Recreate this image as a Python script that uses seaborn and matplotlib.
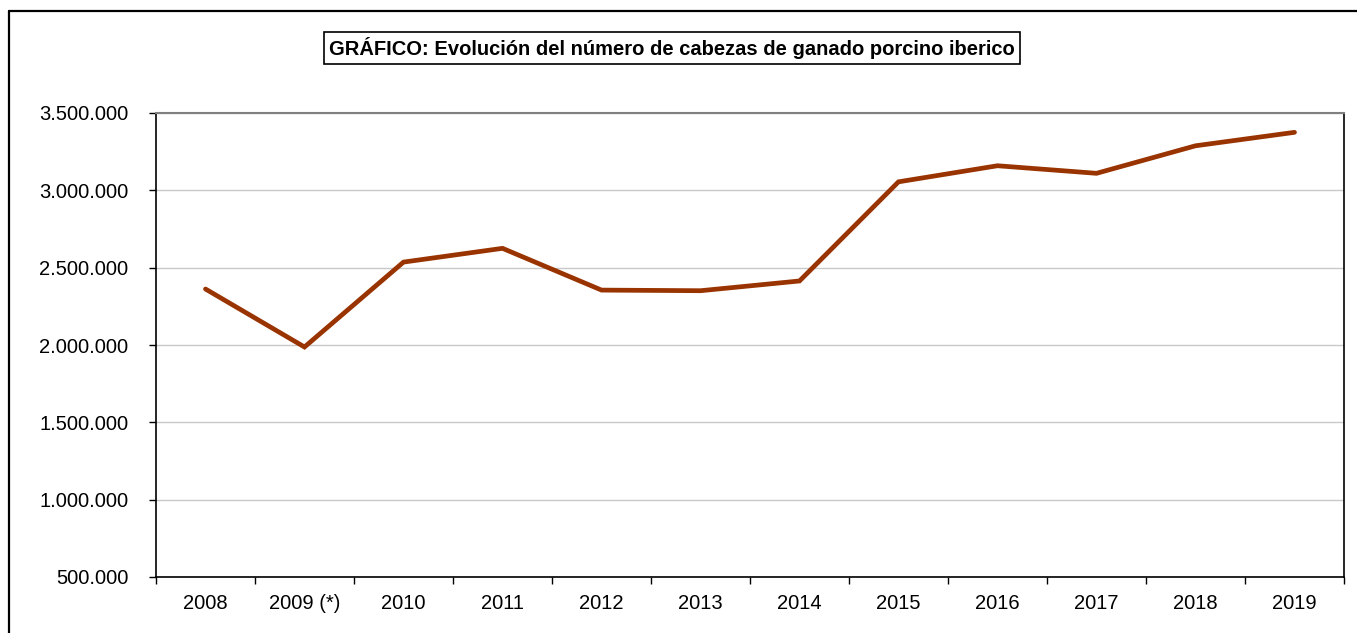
import numpy as np
import pandas as pd
import matplotlib
matplotlib.use("Agg")
import matplotlib.pyplot as plt
import seaborn as sns
from matplotlib.ticker import FuncFormatter, FixedLocator
from matplotlib.lines import Line2D

# datos del gráfico
years = ["2008", "2009 (*)", "2010", "2011", "2012", "2013", "2014",
         "2015", "2016", "2017", "2018", "2019"]
heads = [2362000, 1987000, 2536000, 2625000, 2355000, 2351000, 2414000,
         3055000, 3159000, 3110000, 3288000, 3375000]
y_ticks = [500000, 1000000, 1500000, 2000000, 2500000, 3000000, 3500000]
title = "GRÁFICO: Evolución del número de cabezas de ganado porcino iberico"

sns.set_style("white")
plt.rcParams['font.family'] = ['Liberation Sans', 'DejaVu Sans']

df = pd.DataFrame({"year": years, "heads": heads})

fig = plt.figure(figsize=(13.57, 6.33), dpi=100)
ax = fig.add_axes([156 / 1357, 1 - 577 / 633, (1344 - 156) / 1357, (577 - 113) / 633])

sns.lineplot(data=df, x="year", y="heads", ax=ax, color="#993300",
             linewidth=3.4, solid_capstyle="round", solid_joinstyle="miter",
             sort=False, zorder=3)

ax.set_xlim(-0.5, len(years) - 0.5)
ax.set_ylim(y_ticks[0], y_ticks[-1])

# eje x: marcas entre categorías, etiquetas en el centro
n = len(years)
ax.xaxis.set_major_locator(FixedLocator(np.arange(-0.5, n, 1.0)))
ax.xaxis.set_minor_locator(FixedLocator(np.arange(0, n, 1.0)))
ax.set_xticklabels([""] * (n + 1))
ax.set_xticklabels(years, minor=True)
ax.tick_params(axis="x", which="major", direction="out", length=5, width=1, color="black")
ax.tick_params(axis="x", which="minor", length=0, pad=12, labelsize=14.5, labelcolor="black")

ax.set_yticks(y_ticks)
ax.yaxis.set_major_formatter(FuncFormatter(lambda v, p: f"{v:,.0f}".replace(",", ".")))
ax.tick_params(axis="y", direction="out", length=5, width=1, color="black",
               labelsize=14.5, labelcolor="black", pad=15)
ax.tick_params(left=True, bottom=True)

ax.grid(axis="y", color="#c8c8c8", linewidth=1.0)
ax.set_axisbelow(True)

for side in ["left", "bottom", "right"]:
    ax.spines[side].set_color("black")
    ax.spines[side].set_linewidth(1.2)
ax.spines["top"].set_color("#808080")
ax.spines["top"].set_linewidth(1.5)

ax.set_xlabel("")
ax.set_ylabel("")

# título dentro de un recuadro
fig.text(672 / 1357, 1 - 48 / 633, title, ha="center", va="center",
         fontsize=14.5, fontweight="bold", color="black",
         bbox=dict(boxstyle="square,pad=0.25", facecolor="white",
                   edgecolor="black", linewidth=1.2))

# borde exterior de la figura
fig.add_artist(Line2D([8.5 / 1357, 8.5 / 1357], [1 - 11 / 633, -0.1],
                      transform=fig.transFigure, color="black", linewidth=1.6))
fig.add_artist(Line2D([8.5 / 1357, 1.1], [1 - 11 / 633, 1 - 11 / 633],
                      transform=fig.transFigure, color="black", linewidth=1.6))

fig.savefig("out.png", dpi=100)
